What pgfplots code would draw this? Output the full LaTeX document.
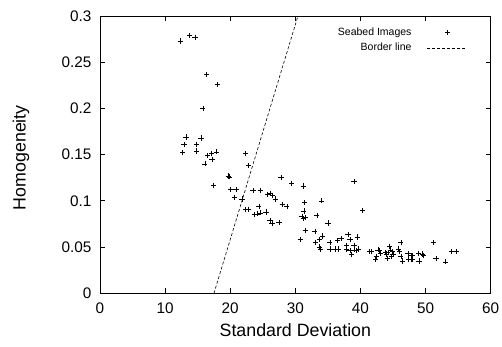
\documentclass[border=0pt]{standalone}
\usepackage{fontspec}
\setmainfont{Liberation Sans}
\usepackage{pgfplots}
\pgfplotsset{compat=1.18}
\pgfplotsset{
  marklegend/.style={legend image code/.code={\path[draw=none,fill=none] (0pt,-3pt) rectangle (55pt,3pt); \draw[##1] plot coordinates {(36pt,0pt)};}},
  linelegend/.style={legend image code/.code={\path[draw=none,fill=none] (0pt,-3pt) rectangle (55pt,3pt); \draw[##1] (16pt,0pt) -- (55pt,0pt);}},
}
\newcommand\lf{\fontsize{10.5}{12}\selectfont}
\begin{document}
\begin{tikzpicture}
\begin{axis}[
  name=ax,
  scale only axis,
  width=390.7pt, height=277.3pt,
  xmin=0, xmax=60, ymin=0, ymax=0.3,
  xtick={0,10,...,60},
  ytick={0,0.05,0.1,0.15,0.2,0.25,0.3},
  yticklabel style={/pgf/number format/fixed,/pgf/number format/precision=2, xshift=-5pt},
  xticklabel style={yshift=-6pt},
  /pgf/number format/assume math mode=true,
  tick align=inside,
  major tick length=5pt,
  tick style={black, line width=0.8pt},
  axis line style={line width=0.9pt},
  ticklabel style={font=\fontsize{15.3}{18}\selectfont},
  xlabel={Standard Deviation},
  ylabel={Homogeneity},
  every axis x label/.style={at={(rel axis cs:0.5,0)}, anchor=center, yshift=-37pt, font=\fontsize{17.8}{20}\selectfont},
  every axis y label/.style={at={(rel axis cs:0,0.5)}, anchor=center, xshift=-79pt, yshift=-3pt, rotate=90, font=\fontsize{17.8}{20}\selectfont},
  legend style={draw=none, fill=none, inner sep=0pt, at={(rel axis cs:1,1)}, anchor=north east,
    xshift=-23.7pt, yshift=-12pt,
    nodes={inner sep=0pt, font=\lf}, column sep=0pt, row sep=6pt},
  legend cell align=right,
  legend plot pos=right,
]
\addplot[only marks, mark=+, mark size=2.6pt, black, line width=0.6pt, marklegend]
coordinates {
(12.4,0.273) (13.7,0.279) (14.6,0.277) (16.4,0.237) (18.0,0.226) (15.8,0.200)
(13.2,0.169) (15.5,0.168) (12.9,0.161) (14.8,0.161) (12.7,0.152) (14.8,0.154)
(16.5,0.149) (17.1,0.151) (17.9,0.153) (17.2,0.145) (16.1,0.140) (22.3,0.151)
(22.8,0.138) (17.4,0.117) (19.7,0.127) (19.9,0.126) (20.0,0.112) (20.9,0.112)
(20.7,0.104) (21.8,0.102) (22.3,0.091) (22.8,0.091)
(23.5,0.111) (24.6,0.111) (25.7,0.107) (26.1,0.108) (26.5,0.106) (26.9,0.102)
(27.8,0.125) (29.4,0.119) (31.2,0.116) (39.0,0.121) (28.0,0.096) (28.7,0.094)
(31.4,0.098) (34.0,0.100) (24.4,0.094) (25.5,0.088) (23.7,0.085) (24.2,0.086)
(24.6,0.087)
(26.1,0.079) (26.4,0.076) (27.5,0.077) (31.3,0.089) (31.0,0.083) (31.2,0.081)
(31.6,0.082) (33.3,0.084) (40.3,0.090) (35.0,0.076) (31.5,0.068) (33.0,0.067)
(34.2,0.062) (30.8,0.058) (33.7,0.058) (33.1,0.055) (33.7,0.050) (33.9,0.048)
(35.3,0.055) (36.5,0.057) (37.0,0.059) (38.1,0.064) (38.4,0.058) (39.5,0.061)
(37.9,0.052) (39.0,0.052) (35.3,0.048) (36.1,0.048) (36.6,0.048) (37.8,0.048)
(38.4,0.046) (39.0,0.047) (39.3,0.046) (39.7,0.048) (38.6,0.042) (41.4,0.045)
(41.7,0.045) (42.7,0.047) (42.5,0.040) (42.3,0.037) (42.9,0.046) (43.1,0.043)
(43.8,0.044) (44.0,0.0425) (44.2,0.044) (44.4,0.051) (44.6,0.047) (44.9,0.045)
(45.0,0.0425) (44.1,0.038) (44.8,0.040) (45.8,0.048) (46.0,0.045) (46.2,0.055)
(46.2,0.040) (46.4,0.035) (47.3,0.043) (47.8,0.041) (48.0,0.041) (47.4,0.037)
(47.8,0.037) (48.0,0.037) (48.9,0.043) (49.5,0.0425) (49.7,0.041) (49.0,0.035)
(51.2,0.055) (51.6,0.038) (53.1,0.034) (54.0,0.045) (54.7,0.045)
};
\addlegendentry{\lf Seabed Images}
\addplot[black, densely dashed, line width=0.6pt, linelegend]
coordinates {(17.5,0) (30.4,0.3)};
\addlegendentry{\lf Border line}
\end{axis}
\pgfresetboundingbox
\path ([shift={(-100pt,-53.7pt)}]ax.south west) rectangle ([shift={(11.3pt,16pt)}]ax.north east);
\end{tikzpicture}
\end{document}
